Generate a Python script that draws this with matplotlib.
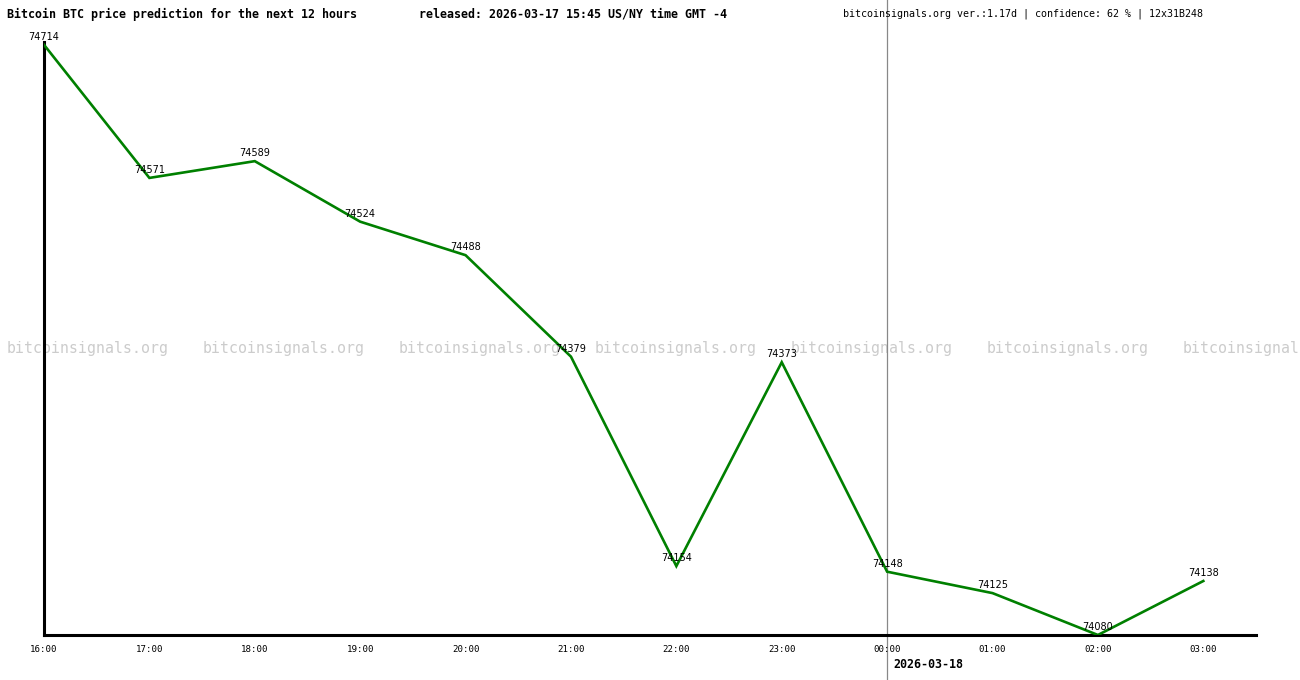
import numpy as np
import matplotlib
matplotlib.use("Agg")
import matplotlib.pyplot as plt

# Prediction data
hours = ["16:00", "17:00", "18:00", "19:00", "20:00", "21:00",
         "22:00", "23:00", "00:00", "01:00", "02:00", "03:00"]
prices = [74714, 74571, 74589, 74524, 74488, 74379,
          74154, 74373, 74148, 74125, 74080, 74138]
midnight_idx = 8
next_date = "2026-03-18"

title_left = "Bitcoin BTC price prediction for the next 12 hours"
title_mid = "released: 2026-03-17 15:45 US/NY time GMT -4"
title_right = "bitcoinsignals.org ver.:1.17d | confidence: 62 % | 12x31B248"
watermark = "bitcoinsignals.org"

W, H = 1300, 680
fig = plt.figure(figsize=(W / 100, H / 100), dpi=100)
ax = fig.add_axes([44 / W, 45 / H, (1256 - 44) / W, (635 - 42) / H])
ax.patch.set_visible(False)
ax.set_zorder(2)

x = np.arange(len(hours))
ax.plot(x, prices, color="#008000", linewidth=1.9, solid_joinstyle="miter", zorder=3)

for xi, p in zip(x, prices):
    ax.annotate(str(p), (xi, p), xytext=(0, 2), textcoords="offset points",
                ha="center", va="bottom", fontsize=7, family="DejaVu Sans",
                color="black", zorder=4, annotation_clip=False)

ax.set_xlim(0, 11.5)
ax.set_ylim(74080, 74717)
ax.set_xticks(x)
ax.set_xticklabels(hours, family="DejaVu Sans Mono", fontsize=6.6)
ax.tick_params(axis="x", length=0, pad=7)
ax.set_yticks([])
for s in ("top", "right"):
    ax.spines[s].set_visible(False)
for s in ("left", "bottom"):
    ax.spines[s].set_linewidth(2.2)
    ax.spines[s].set_color("black")

# vertical day separator across the full figure
xm = ax.transData.transform((midnight_idx, 0))[0] / W
fig.add_artist(plt.Line2D([xm, xm], [0, 1], color="#888888", linewidth=0.9,
                          transform=fig.transFigure, zorder=1))
fig.text(xm + 6 / W, 1 - 664 / H, next_date, ha="left", va="center",
         family="DejaVu Sans Mono", fontweight="bold", fontsize=8.4)

# watermark row
for i in range(7):
    fig.text((7 + 196 * i) / W, 1 - 348 / H, watermark, ha="left", va="center",
             family="DejaVu Sans Mono", fontsize=10.7, color="#cccccc", zorder=0)

fig.text(7 / W, 1 - 14 / H, title_left, ha="left", va="center",
         family="DejaVu Sans Mono", fontweight="bold", fontsize=8.4)
fig.text(419 / W, 1 - 14 / H, title_mid, ha="left", va="center",
         family="DejaVu Sans Mono", fontweight="bold", fontsize=8.4)
fig.text(843 / W, 1 - 14 / H, title_right, ha="left", va="center",
         family="DejaVu Sans Mono", fontsize=7.2)

fig.savefig("out.png", dpi=100)
